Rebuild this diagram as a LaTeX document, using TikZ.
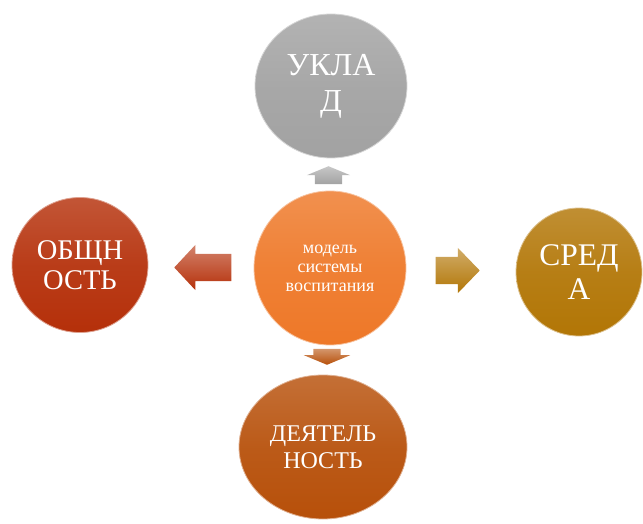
\documentclass[tikz,border=0pt]{standalone}
\usepackage{fontspec}
\setmainfont{Liberation Serif}
\usetikzlibrary{shapes.geometric,shapes.arrows}
\definecolor{ukladgray}{RGB}{162,162,162}
\definecolor{modelorange}{RGB}{238,120,40}
\definecolor{obshred}{RGB}{181,48,10}
\definecolor{sredagold}{RGB}{178,118,6}
\definecolor{deyatbrown}{RGB}{183,80,10}
\begin{document}
\begin{tikzpicture}[x=1pt,y=-1pt,
    ball/.style={ellipse,inner sep=0,text=white,align=center,draw=#1!45!white,line width=0.8pt,
        top color=#1!82!white,bottom color=#1,middle color=#1!94!white},
    blockarrow/.style={single arrow,inner xsep=0,inner ysep=13.5,draw=none,single arrow head extend=9,
        anchor=tip,top color=#1!60!white,bottom color=#1}]
    \useasboundingbox (0,0) rectangle (643,524);
        \node[ball=modelorange,minimum width=152,minimum height=154,font=\fontsize{18}{19}\selectfont] (model) at (330,268) {модель\\системы\\воспитания};
        \node[ball=ukladgray,minimum width=152,minimum height=144,font=\fontsize{32}{36}\selectfont] (uklad) at (331,86) {УКЛА\\Д};
        \node[ball=obshred,minimum width=136,minimum height=135,font=\fontsize{28.5}{30}\selectfont] (obsh) at (80,265) {ОБЩН\\ОСТЬ};
        \node[ball=sredagold,minimum width=126,minimum height=128,font=\fontsize{31.5}{34}\selectfont] (sreda) at (579,272) {СРЕД\\А};
        \node[ball=deyatbrown,minimum width=168,minimum height=144,font=\fontsize{24}{27}\selectfont] (deyat) at (323,447) {ДЕЯТЕЛЬ\\НОСТЬ};
        \node[blockarrow=ukladgray,inner xsep=13.5,inner ysep=0,minimum height=18,single arrow head extend=8,single arrow tip angle=135,shape border rotate=90] (toUklad) at (328.5,166) {};
        \node[blockarrow=obshred,minimum height=57,single arrow tip angle=94,shape border rotate=180] (toObsh) at (174,267.5) {};
        \node[blockarrow=sredagold,minimum height=44,single arrow tip angle=92] (toSreda) at (480,270.5) {};
        \node[blockarrow=deyatbrown,inner xsep=13.5,inner ysep=0,minimum height=16,single arrow head extend=9.5,single arrow tip angle=135,shape border rotate=270] (toDeyat) at (327,365) {};
    \end{tikzpicture}
\end{document}
